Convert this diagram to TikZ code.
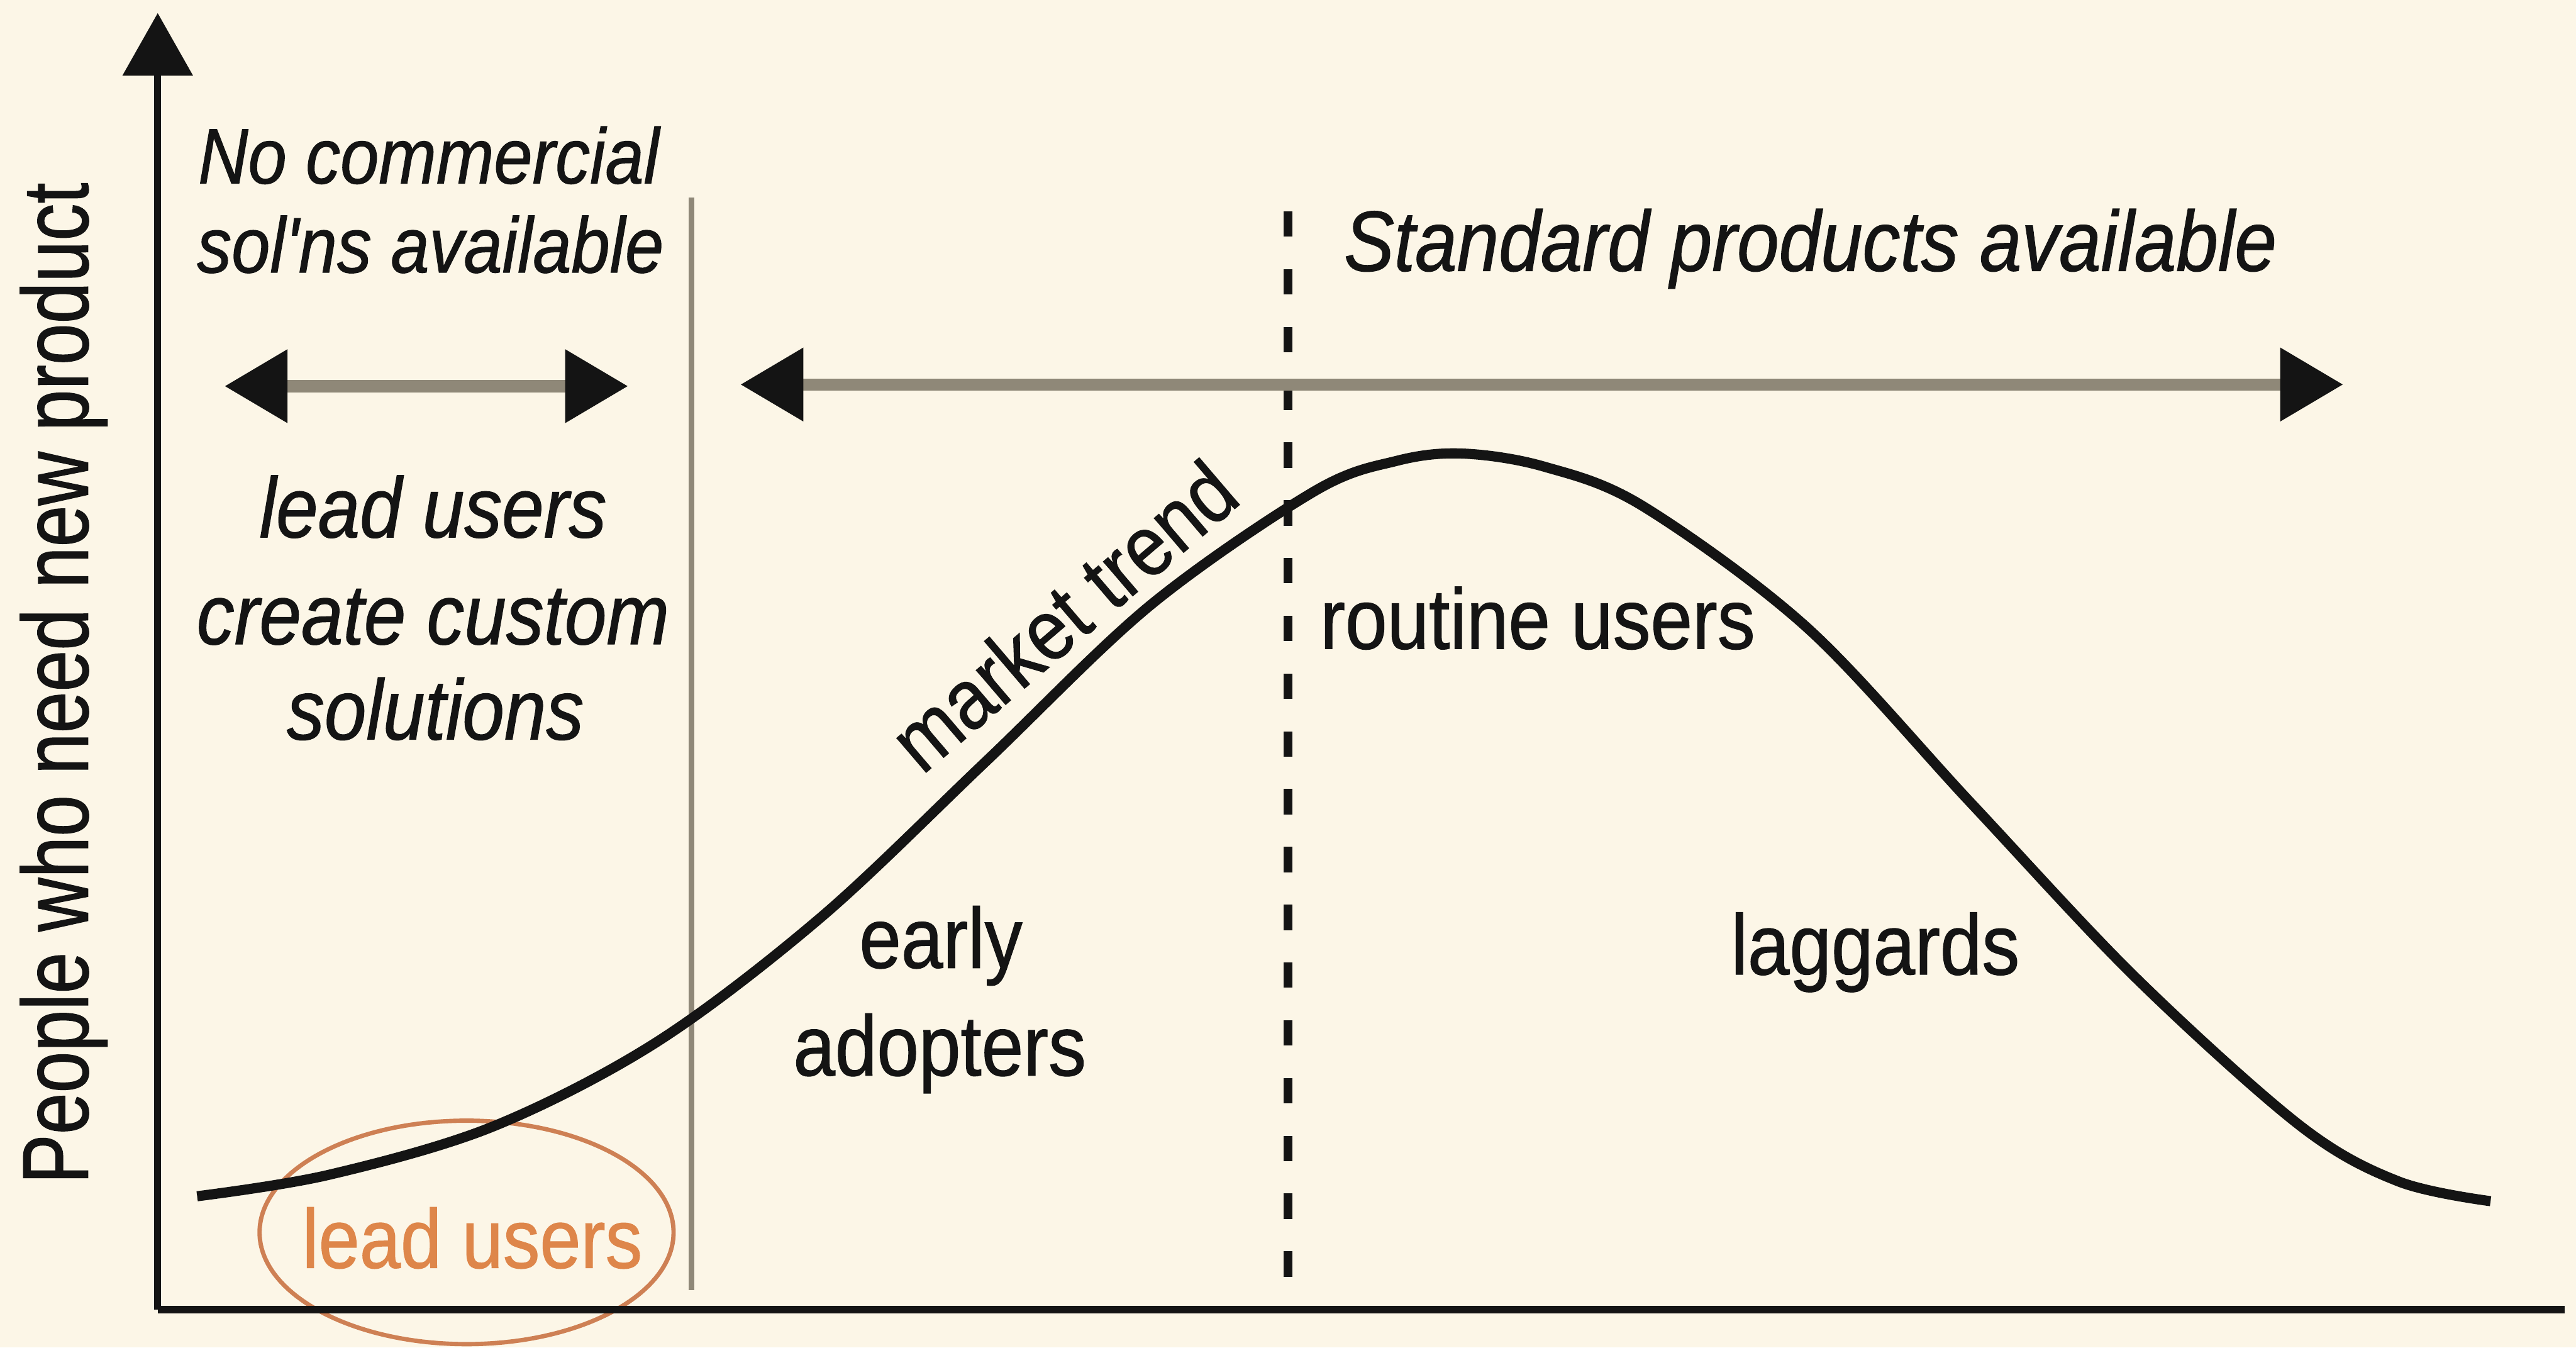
\documentclass[tikz,border=0pt]{standalone}
\usepackage{fontspec}
\usetikzlibrary{arrows.meta}
% narrow sans faces for the labels
\newfontfamily\labelfont[FakeStretch=0.88,FakeBold=0.9,Ligatures=TeXOff]{Liberation Sans}
\newfontfamily\axisfont[FakeStretch=0.795,FakeBold=0.9,Ligatures=TeXOff]{Liberation Sans}
\definecolor{paper}{RGB}{252,246,231}
\definecolor{rulegray}{RGB}{143,136,120}
\definecolor{ink}{RGB}{20,20,20}
\definecolor{leadorange}{RGB}{222,134,74}
\definecolor{leadring}{RGB}{206,128,84}
\begin{document}
\begin{tikzpicture}[x=0.01cm, y=-0.01cm,
  txt/.style={font=\labelfont\fontsize{14.8pt}{17pt}\selectfont, text=ink, inner sep=0pt, anchor=base},
  itxt/.style={txt, font=\labelfont\itshape\fontsize{14.8pt}{17pt}\selectfont},
  ismall/.style={txt, font=\labelfont\itshape\fontsize{13.6pt}{16pt}\selectfont},
  leadtxt/.style={txt, font=\labelfont\fontsize{14.5pt}{17pt}\selectfont, text=leadorange},
  axislabel/.style={font=\axisfont\fontsize{16.2pt}{18pt}\selectfont, text=ink, inner sep=0pt, anchor=base, rotate=90},
  axisline/.style={draw=ink, line width=1.2pt},
  trendcurve/.style={draw=ink, line width=1.75pt},
  divider/.style={draw=rulegray, line width=1pt},
  boundary/.style={draw=ink, line width=1.42pt, dash pattern=on 4.4pt off 5.6pt},
  span/.style={draw=rulegray, line width=2.1pt,
    {Triangle[length=3.8mm,width=4.5mm,color=ink,line width=0pt]}-{Triangle[length=3.8mm,width=4.5mm,color=ink,line width=0pt]}},
  ring/.style={draw=leadring, line width=0.75pt}
]
% page background
\fill[paper] (0,0) rectangle (1568,820);

% lead-user ring (under the axis and the curve)
\coordinate (ringc) at (284,750);
\draw[ring] (ringc) ellipse [x radius=126, y radius=68];

% axes
\coordinate (origin) at (96,797);
\coordinate (ytip) at (96,8);
\coordinate (xend) at (1561,797);
\draw[axisline, -{Triangle[length=3.8mm,width=4.3mm,line width=0pt]}] (origin) -- (ytip);
\draw[axisline] (origin) -- (xend);

% divider between custom solutions and the market
\coordinate (divtop) at (421,120);
\coordinate (divbot) at (421,785);
\draw[divider] (divtop) -- (divbot);

% start of standard products
\coordinate (stdtop) at (784,125);
\coordinate (stdbot) at (784,777);
\draw[boundary] (stdbot) -- (stdtop);

% span arrows
\coordinate (cl) at (137,235);
\coordinate (cr) at (382,235);
\draw[span] (cl) -- (cr);
\coordinate (sl) at (451,234);
\coordinate (sr) at (1426,234);
\draw[span] (sl) -- (sr);

% adoption curve
\draw[trendcurve] plot[smooth, tension=0.55] coordinates {
  (120,728) (200,715) (300,685.6) (400,634) (500,558) (600,463.5)
  (700,368.5) (800,299) (850,280.5) (890,276) (940,284) (1000,308)
  (1100,382) (1200,489) (1300,595) (1400,685) (1460,719) (1516,731)};

% labels
\node[axislabel] (ylab) at (53.5,415.8) {People who need new product};
\node[ismall] (nc1) at (261,111.6) {No commercial};
\node[ismall] (nc2) at (262,165.8) {sol'ns available};
\node[itxt] (std) at (1102,164.8) {Standard products available};
\node[itxt] (lu1) at (263.6,327) {lead users};
\node[itxt] (lu2) at (263.6,392) {create custom};
\node[itxt] (lu3) at (265,450) {solutions};
\node[txt, anchor=center, rotate=40.5] (trend) at (647,374.5) {market trend};
\node[txt] (ea1) at (572.7,589) {early};
\node[txt] (ea2) at (572,654.5) {adopters};
\node[txt] (rout) at (936,394.8) {routine users};
\node[txt] (lag) at (1141.5,593) {laggards};
\node[leadtxt] (lead) at (287.5,771.6) {lead users};
\end{tikzpicture}
\end{document}
